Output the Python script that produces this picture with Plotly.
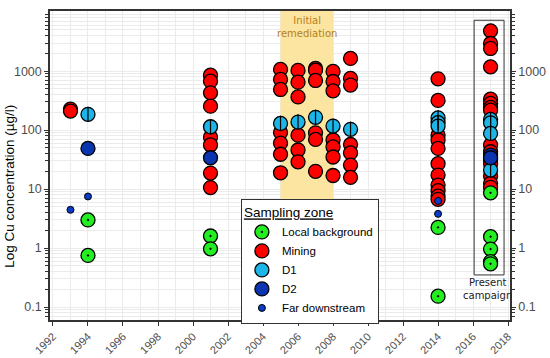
import math
import plotly.graph_objects as go

# ---------------- data ----------------
mining_years = [1993, 1993,
                2001, 2001, 2001, 2001, 2001, 2001, 2001, 2001,
                2005, 2005, 2005, 2005, 2005, 2005, 2005,
                2006, 2006, 2006, 2006, 2006, 2006,
                2007, 2007, 2007, 2007, 2007, 2007,
                2008, 2008, 2008, 2008, 2008, 2008, 2008,
                2009, 2009, 2009, 2009, 2009, 2009, 2009,
                2014, 2014, 2014, 2014, 2014, 2014, 2014, 2014, 2014, 2014, 2014,
                2017, 2017, 2017, 2017, 2017, 2017, 2017, 2017, 2017, 2017, 2017, 2017, 2017, 2017, 2017]
mining_values = [227, 210,
                 855, 677, 429, 255, 76, 56, 18.7, 10.6,
                 1069, 723, 489, 91, 60, 39, 18.9,
                 1028, 651, 366, 82, 46, 29,
                 1111, 1040, 695, 90, 69.5, 20,
                 988, 668, 463, 68, 52, 35, 17,
                 1641, 752, 580, 57, 41, 25.5, 15.8,
                 741, 319, 82, 68, 49, 27, 17.3, 11.7, 9.4, 7.6, 6.7,
                 4820, 2944, 2424, 1182, 335, 284, 243, 218, 56, 43, 32, 27, 16.6, 12.5, 10.7]

d1_years = [1994, 2001, 2005, 2006, 2007, 2008, 2009, 2014, 2014, 2014, 2017, 2017, 2017, 2017]
d1_values = [185, 114, 130, 137, 165, 117, 103, 161, 134, 117, 152, 133, 88, 21]

d2_years = [1994, 2001, 2017, 2017]
d2_values = [49, 34, 37.7, 34]

local_years = [1994, 1994, 2001, 2001, 2014, 2014, 2017, 2017, 2017, 2017, 2017]
local_values = [3.0, 0.75, 1.6, 0.97, 2.24, 0.153, 8.65, 1.56, 0.96, 0.59, 0.54]

far_years = [1993, 1994, 2014, 2014]
far_values = [4.45, 7.5, 6.3, 3.8]

remediation_period = [2005, 2008]
campaign_box = {"x": [2016.06, 2017.77], "y": [7300, 0.35]}

y_range_log = [-1.22, 4.02]
y_tickvals = [0.1, 1, 10, 100, 1000]
y_ticktext = ["0.1", "1", "10", "100", "1000"]
y_minor_vals = [m * d for d in [0.01, 0.1, 1, 10, 100, 1000] for m in range(2, 10)]

# ---------------- style ----------------
FONT = "Liberation Sans, Arial, sans-serif"
BIG = 14
LW = 1.3
tick_grey = "#4D4D4D"

fig = go.Figure()

# remediation band as a filled trace so it covers the grid
band_lo, band_hi = 10 ** (y_range_log[0] - 1), 10 ** (y_range_log[1] + 1)
fig.add_trace(go.Scatter(x=[remediation_period[0], remediation_period[1], remediation_period[1],
                            remediation_period[0], remediation_period[0]],
                         y=[band_lo, band_lo, band_hi, band_hi, band_lo],
                         mode="lines", fill="toself", fillcolor="#FBE5A0",
                         line=dict(width=0), showlegend=False, hoverinfo="skip"))

fig.add_trace(go.Scatter(x=mining_years, y=mining_values, mode="markers", name="Mining",
                         marker=dict(size=BIG, color="#FF0000", line=dict(color="black", width=LW))))
fig.add_trace(go.Scatter(x=d1_years, y=d1_values, mode="markers", name="D1",
                         legendgroup="d1",
                         marker=dict(size=BIG, color="#1CB5E8", line=dict(color="black", width=LW))))
fig.add_trace(go.Scatter(x=d1_years, y=d1_values, mode="markers", showlegend=False,
                         legendgroup="d1", hoverinfo="skip",
                         marker=dict(size=11, symbol="line-ns", color="black",
                                     line=dict(color="black", width=1.2))))
fig.add_trace(go.Scatter(x=d2_years, y=d2_values, mode="markers", name="D2",
                         marker=dict(size=BIG, color="#0A34B0", line=dict(color="black", width=LW))))
fig.add_trace(go.Scatter(x=local_years, y=local_values, mode="markers", name="Local background",
                         marker=dict(size=BIG, symbol="circle-dot", color="#22EE22",
                                     line=dict(color="black", width=LW))))
fig.add_trace(go.Scatter(x=far_years, y=far_values, mode="markers", name="Far downstream",
                         marker=dict(size=7, color="#0A3CC8", line=dict(color="black", width=1))))
# dummy trace for right axis
fig.add_trace(go.Scatter(x=[None], y=[None], yaxis="y2", showlegend=False, hoverinfo="skip"))

legend_rank = {"Local background": 1, "Mining": 2, "D1": 3, "D2": 4, "Far downstream": 5}
for tr in fig.data:
    if tr.name in legend_rank:
        tr.legendrank = legend_rank[tr.name]

fig.add_shape(type="rect", xref="x", yref="y", x0=campaign_box["x"][0], x1=campaign_box["x"][1],
              y0=campaign_box["y"][1], y1=campaign_box["y"][0],
              line=dict(color="#333333", width=1), fillcolor="rgba(0,0,0,0)", layer="between")

fig.add_annotation(x=sum(remediation_period) / 2, y=1, xref="x", yref="paper", yshift=-2,
                   text="Initial<br>remediation", showarrow=False, yanchor="top",
                   font=dict(family="DejaVu Sans", size=10, color="#B5801A"))
fig.add_annotation(x=sum(campaign_box["x"]) / 2 - 0.1, y=math.log10(campaign_box["y"][1]),
                   xref="x", yref="y",
                   text="Present<br>campaign", showarrow=False, yanchor="top", yshift=0,
                   font=dict(family="DejaVu Sans", size=10, color="#222222"))
fig.add_annotation(x=-0.087, y=0.434, xref="paper", yref="paper", text="Log Cu concentration (µg/l)",
                   textangle=-90, showarrow=False, xanchor="center", yanchor="middle",
                   font=dict(family=FONT, size=13.5, color="black"))

yaxis_common = dict(type="log", range=y_range_log, tickmode="array", tickvals=y_tickvals,
                    ticktext=y_ticktext,
                    ticks="outside", ticklen=4, tickcolor="#333333",
                    tickfont=dict(family=FONT, size=12.5, color=tick_grey),
                    minor=dict(tickmode="array", tickvals=y_minor_vals, ticks="outside", ticklen=3,
                               tickcolor="#333333", showgrid=True, gridcolor="#EBEBEB", gridwidth=1),
                    showline=True, linecolor="#333333", linewidth=1.5, automargin=False)

fig.update_layout(
    width=550, height=358,
    margin=dict(l=50, r=40, t=11, b=38),
    paper_bgcolor="white", plot_bgcolor="white",
    font=dict(family=FONT, color="black"),
    xaxis=dict(range=[1991.83, 2018.11], tickmode="linear", tick0=1992, dtick=2,
               tickangle=-45, ticks="outside", ticklen=4, tickcolor="#333333",
               tickfont=dict(family=FONT, size=11, color=tick_grey),
               showgrid=True, gridcolor="#EBEBEB", gridwidth=1,
               minor=dict(dtick=1, showgrid=True, gridcolor="#EBEBEB", gridwidth=1),
               showline=True, linecolor="#333333", linewidth=1.5, mirror=True, zeroline=False,
               automargin=False),
    yaxis=dict(**yaxis_common, showgrid=True, gridcolor="#EBEBEB", gridwidth=1),
    yaxis2=dict(**yaxis_common, overlaying="y", side="right", showgrid=False),
    legend=dict(x=0.415, y=0.392, xanchor="left", yanchor="top",
                bgcolor="white", bordercolor="#333333", borderwidth=1,
                font=dict(family=FONT, size=11.5, color="black"),
                title=dict(text="<u>Sampling zone</u>", font=dict(family=FONT, size=13.5)),
                tracegroupgap=0, itemwidth=30),
    showlegend=True,
)

fig.write_html("out.html", config={"displayModeBar": False},
               post_script="document.body.style.margin='0';")
